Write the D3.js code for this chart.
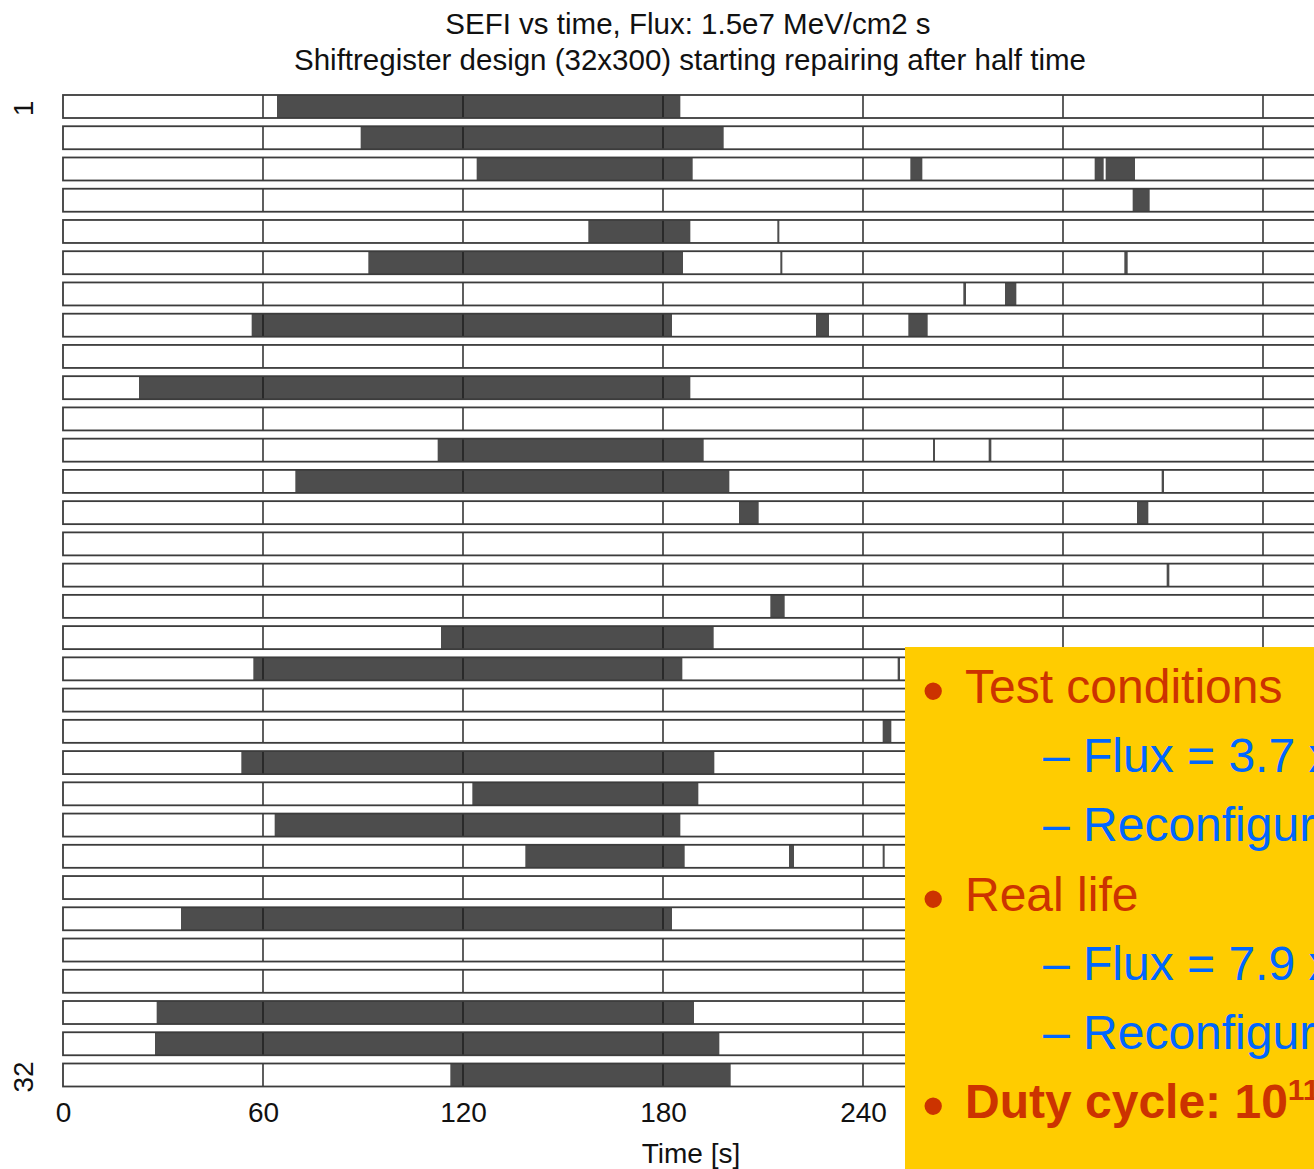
<!DOCTYPE html>
<html>
<head>
<meta charset="utf-8">
<script src="https://cdn.jsdelivr.net/npm/d3@7"></script>
<style>
  body { margin: 0; background: #fff; }
  svg { display: block; }
</style>
</head>
<body>
<div id="chart"></div>
<script>
// SEFI vs time chart, 32 rows with error periods (dark) on a time axis

const titleLines = [
  'SEFI vs time, Flux: 1.5e7 MeV/cm2 s',
  'Shiftregister design (32x300) starting repairing after half time'
];
const xLabel = 'Time [s]';

const rowIds = [1, 2, 3, 4, 5, 6, 7, 8, 9, 10, 11, 12, 13, 14, 15, 16,
                17, 18, 19, 20, 21, 22, 23, 24, 25, 26, 27, 28, 29, 30, 31, 32];
const rowLabels = [1, 32];
const timeTicks = [0, 60, 120, 180, 240, 300, 360];
// labels right of 240 sit under the yellow box
const tickLabels = [0, 60, 120, 180, 240];

// [row, start s, end s] of each SEFI period
const segments = [
  [1, 64.2, 185.2],
  [2, 89.3, 198.2],
  [3, 124.1, 188.9], [3, 254.2, 257.8], [3, 309.5, 312.2], [3, 312.8, 321.6],
  [4, 320.9, 326.0],
  [5, 157.6, 188.2], [5, 214.3, 214.9],
  [6, 91.6, 186.0], [6, 215.2, 215.8], [6, 318.4, 319.4],
  [7, 270.1, 270.9], [7, 282.6, 286.0],
  [8, 56.6, 182.7], [8, 225.9, 229.8], [8, 253.6, 259.4],
  [10, 22.8, 188.2],
  [12, 112.4, 192.2], [12, 261.0, 261.6], [12, 277.7, 278.5],
  [13, 69.7, 199.9], [13, 329.6, 330.3],
  [14, 202.8, 208.7], [14, 322.2, 325.6],
  [16, 331.1, 331.9],
  [17, 212.2, 216.5],
  [18, 113.4, 195.2],
  [19, 57.1, 185.8], [19, 250.4, 251.1],
  [21, 245.9, 248.5],
  [22, 53.5, 195.4],
  [23, 122.8, 190.6],
  [24, 63.5, 185.2],
  [25, 138.7, 186.5], [25, 217.8, 219.3], [25, 245.9, 246.5],
  [27, 35.4, 182.7],
  [30, 28.1, 189.3],
  [31, 27.6, 196.9],
  [32, 116.2, 200.3]
];

// slide text box laid over the right part of the plot
const boxLines = [
  { level: 0, text: 'Test conditions' },
  { level: 1, text: '– Flux = 3.7 x' },
  { level: 1, text: '– Reconfigur' },
  { level: 0, text: 'Real life' },
  { level: 1, text: '– Flux = 7.9 x' },
  { level: 1, text: '– Reconfigur' },
  { level: 0, text: 'Duty cycle: 10', sup: '11', bold: true }
];

const width = 1314, height = 1169;
const font = '"Liberation Sans", Arial, Helvetica, sans-serif';

const svg = d3.select('#chart')
  .append('svg')
  .attr('width', width)
  .attr('height', height)
  .attr('viewBox', [0, 0, width, height]);

const x = d3.scaleLinear().domain([0, 420]).range([63, 1463]);
const y = d3.scalePoint().domain(rowIds).range([106.5, 1075]);
const rowH = 23;

// titles
svg.append('g')
  .selectAll('text')
  .data(titleLines)
  .join('text')
  .attr('x', (d, i) => i === 0 ? 688 : 690)
  .attr('y', (d, i) => 34 + i * 36)
  .attr('text-anchor', 'middle')
  .attr('font-family', font)
  .attr('font-size', 29.5)
  .attr('fill', '#111')
  .text(d => d);

// row backgrounds
svg.append('g')
  .selectAll('rect')
  .data(rowIds)
  .join('rect')
  .attr('x', x(0))
  .attr('y', d => y(d) - rowH / 2)
  .attr('width', x(420) - x(0))
  .attr('height', rowH)
  .attr('fill', '#fff');

// dark SEFI periods
svg.append('g')
  .selectAll('rect')
  .data(segments)
  .join('rect')
  .attr('x', d => x(d[1]))
  .attr('y', d => y(d[0]) - rowH / 2)
  .attr('width', d => Math.max(1.5, x(d[2]) - x(d[1])))
  .attr('height', rowH)
  .attr('fill', '#4d4d4d');

// grid lines within each row
const gridTicks = timeTicks.filter(t => t > 0);
svg.append('g')
  .selectAll('g')
  .data(rowIds)
  .join('g')
  .selectAll('line')
  .data(r => gridTicks.map(t => ({ r, t })))
  .join('line')
  .attr('x1', d => x(d.t))
  .attr('x2', d => x(d.t))
  .attr('y1', d => y(d.r) - rowH / 2)
  .attr('y2', d => y(d.r) + rowH / 2)
  .attr('stroke', '#1a1a1a')
  .attr('stroke-width', 1.4);

// row borders
svg.append('g')
  .selectAll('rect')
  .data(rowIds)
  .join('rect')
  .attr('x', x(0))
  .attr('y', d => y(d) - rowH / 2)
  .attr('width', x(420) - x(0))
  .attr('height', rowH)
  .attr('fill', 'none')
  .attr('stroke', '#3c3c3c')
  .attr('stroke-width', 1.8);

// row labels (rotated)
svg.append('g')
  .selectAll('text')
  .data(rowLabels)
  .join('text')
  .attr('transform', d => `translate(33,${y(d) + 2}) rotate(-90)`)
  .attr('text-anchor', 'middle')
  .attr('font-family', font)
  .attr('font-size', 28)
  .attr('fill', '#111')
  .text(d => d);

// x axis
const xAxis = svg.append('g')
  .attr('transform', `translate(0,${y(32) + rowH / 2})`)
  .call(d3.axisBottom(x).tickValues(tickLabels).tickSize(0).tickFormat(d3.format('d')));
xAxis.select('.domain').remove();
xAxis.selectAll('text')
  .attr('y', 35)
  .attr('dy', 0)
  .attr('font-family', font)
  .attr('font-size', 28)
  .attr('fill', '#111');

svg.append('text')
  .attr('x', 691)
  .attr('y', 1163)
  .attr('text-anchor', 'middle')
  .attr('font-family', font)
  .attr('font-size', 28)
  .attr('fill', '#111')
  .text(xLabel);

// yellow overlay box
const box = svg.append('g');
box.append('rect')
  .attr('x', 905)
  .attr('y', 647)
  .attr('width', width - 905)
  .attr('height', height - 647)
  .attr('fill', '#ffcc00');

const lineY = d3.scalePoint().domain(d3.range(boxLines.length)).range([703, 1118]);

box.selectAll('text.bullet')
  .data(boxLines.filter(d => d.level === 0))
  .join('text')
  .attr('class', 'bullet')
  .attr('x', 922)
  .attr('y', d => lineY(boxLines.indexOf(d)) + 10)
  .attr('font-family', font)
  .attr('font-size', 64)
  .attr('fill', '#cc3300')
  .text('•');

const lines = box.selectAll('text.line')
  .data(boxLines)
  .join('text')
  .attr('class', 'line')
  .attr('x', d => d.level === 0 ? 965 : 1043)
  .attr('y', (d, i) => lineY(i))
  .attr('font-family', font)
  .attr('font-size', 48)
  .attr('font-weight', d => d.bold ? 'bold' : 'normal')
  .attr('fill', d => d.level === 0 ? '#cc3300' : '#0066ff');
lines.append('tspan').text(d => d.text);
lines.filter(d => d.sup)
  .append('tspan')
  .attr('dy', -18)
  .attr('font-size', 30)
  .text(d => d.sup);
</script>
</body>
</html>
